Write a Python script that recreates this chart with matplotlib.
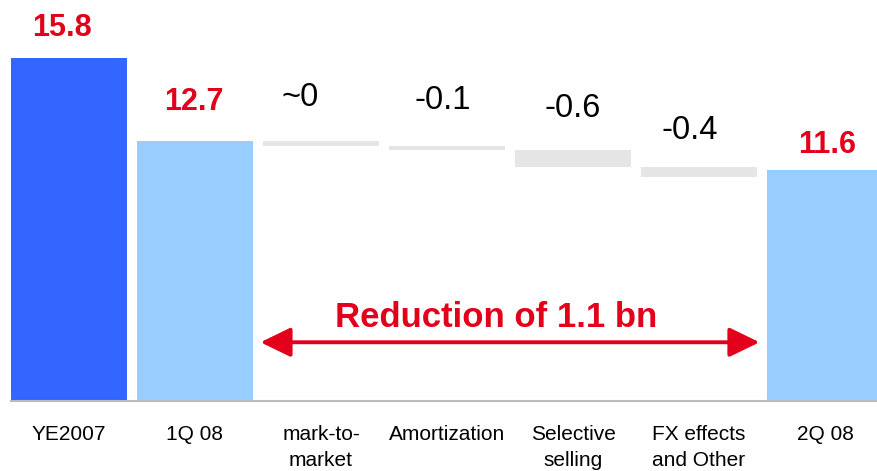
import matplotlib
matplotlib.use("Agg")
import matplotlib.pyplot as plt
from matplotlib.patches import FancyArrowPatch

plt.rcParams['font.family'] = ['Liberation Sans', 'DejaVu Sans']

# ---- data -------------------------------------------------------------
categories = ["YE2007", "1Q 08", "mark-to-\nmarket", "Amortization",
              "Selective\nselling", "FX effects\nand Other", "2Q 08"]
start_values = [15.8, 12.7]          # totals before the bridge
step_changes = [-0.0, -0.1, -0.6, -0.4]
step_labels = ["~0", "-0.1", "-0.6", "-0.4"]
end_value = 11.6
end_label = "11.6"
total_labels = ["15.8", "12.7"]
reduction_text = "Reduction of 1.1 bn"

# ---- style ------------------------------------------------------------
RED = "#E2001A"
DARK_BLUE = "#3366FF"
LIGHT_BLUE = "#99CCFF"
GREY = "#E5E5E5"
BAR_W = 0.92
MIN_STEP = 0.18   # smallest drawn thickness for a bridge step

W, H = 878, 471
fig = plt.figure(figsize=(W / 100, H / 100), dpi=100)
ax = fig.add_axes([11 / W, (H - 401) / H, (W - 11) / W, 401 / H])

x = list(range(len(categories)))

# total bars
ax.bar(x[0], start_values[0], width=BAR_W, color=DARK_BLUE, zorder=2)
ax.bar(x[1], start_values[1], width=BAR_W, color=LIGHT_BLUE, zorder=2)
ax.bar(x[6], end_value, width=BAR_W, color=LIGHT_BLUE, zorder=2)

# bridge steps, each hanging from the bottom of the previous one
level = start_values[1]
step_tops = []
for i, ch in enumerate(step_changes):
    h = max(abs(ch), MIN_STEP)
    ax.bar(x[2 + i], -h, bottom=level, width=BAR_W, color=GREY, zorder=2)
    step_tops.append(level)
    level -= h

# value labels (offsets in points)
total_offsets = [(-5, 15.8), (-1, 22.3), (1.5, 12.2)]
for xi, val, lab, off in zip([x[0], x[1], x[6]],
                             start_values + [end_value],
                             total_labels + [end_label],
                             total_offsets):
    ax.annotate(lab, (xi, val), xytext=off, textcoords="offset points",
                ha="center", va="baseline", color=RED, fontsize=22,
                fontweight="bold")

step_offsets = [(-15, 25), (-3, 26.5), (0, 24), (-7, 20)]
for i, (top, lab, off) in enumerate(zip(step_tops, step_labels, step_offsets)):
    ax.annotate(lab, (x[2 + i], top), xytext=off, textcoords="offset points",
                ha="center", va="baseline", color="black", fontsize=23.5)

# reduction arrow and caption
arrow = FancyArrowPatch((1.52, 5.19), (5.48, 5.19),
                        arrowstyle="<|-|>,head_length=18.5,head_width=9",
                        mutation_scale=1, color=RED, linewidth=2.8,
                        shrinkA=0, shrinkB=0, zorder=3)
ax.add_patch(arrow)
ax.text(3.39, 5.75, reduction_text, ha="center", va="baseline",
        color=RED, fontsize=25, fontweight="bold")

# axes
ax.set_xlim(-BAR_W / 2, (W - 69) / 126)
ax.set_ylim(3.0, 17.95)
ax.set_xticks(x)
ax.set_xticklabels(categories, fontsize=15, linespacing=1.45)
ax.tick_params(axis="x", length=0, pad=17.5)
ax.set_yticks([])
for s in ["top", "right", "left"]:
    ax.spines[s].set_visible(False)
ax.spines["bottom"].set_color("#BBBBBB")
ax.spines["bottom"].set_linewidth(1.5)
ax.set_facecolor("none")

fig.savefig("out.png", dpi=100)
